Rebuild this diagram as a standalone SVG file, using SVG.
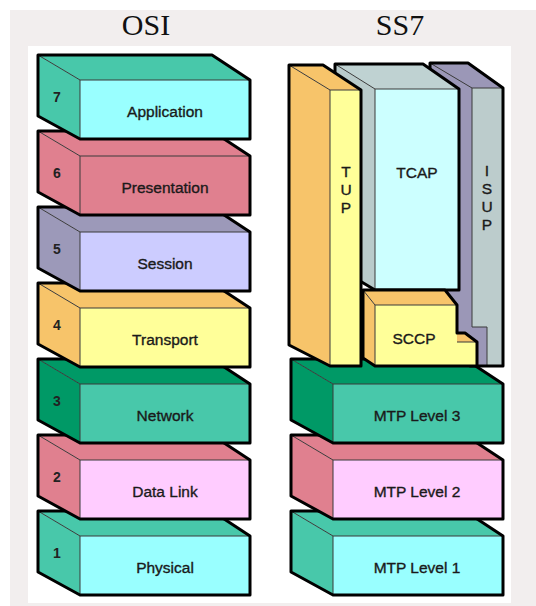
<svg xmlns="http://www.w3.org/2000/svg" width="536" height="606" viewBox="0 0 536 606">
<style>
.o{fill:none;stroke:#000;stroke-width:3;stroke-linejoin:round}
.e{fill:none;stroke:#3a3a3a;stroke-width:1}
.lbl{font-family:"Liberation Sans",Arial,sans-serif;font-size:15.5px;fill:#1a1a1a;stroke:#1a1a1a;stroke-width:0.35;text-anchor:middle}
.num{font-family:"Liberation Sans",Arial,sans-serif;font-size:14px;font-weight:bold;fill:#222;text-anchor:middle}
.ttl{font-family:"Liberation Serif","Times New Roman",serif;font-size:30px;fill:#111;text-anchor:middle}
.teal{fill:#48c8aa}.cyan{fill:#99ffff}.pink{fill:#e0808f}.lpink{fill:#ffccff}
.slate{fill:#9c99b9}.lav{fill:#ccccff}.orng{fill:#f7c46a}.yel{fill:#ffff99}
.dg{fill:#009966}.tcf{fill:#ccffff}.tcs{fill:#b9cbcb}.tct{fill:#bfd2d2}
.pur{fill:#9b97b7}.gry{fill:#bccccc}
</style>
<rect width="536" height="606" fill="#ffffff"/>
<rect x="10" y="10" width="526" height="596" fill="#f2eeee"/>
<rect x="28" y="46" width="483" height="557" fill="#ffffff"/>
<text class="ttl" x="146" y="35">OSI</text>
<text class="ttl" x="400" y="35">SS7</text>

<!-- OSI stack, drawn bottom-up -->
<g id="osi1" transform="translate(0,511)">
<polygon class="teal" points="38,0 212,0 250,25 80,25"/><polygon class="teal" points="38,0 80,25 80,84 38,61"/>
<rect class="cyan" x="80" y="25" width="170" height="59"/>
<path class="e" d="M38,0L80,25L250,25M80,25V84"/><polygon class="o" points="38,0 212,0 250,25 250,84 80,84 38,61"/>
<text class="num" x="57" y="47">1</text><text class="lbl" x="165" y="62">Physical</text></g>
<g id="osi2" transform="translate(0,435)">
<polygon class="pink" points="38,0 212,0 250,25 80,25"/><polygon class="pink" points="38,0 80,25 80,84 38,61"/>
<rect class="lpink" x="80" y="25" width="170" height="59"/>
<path class="e" d="M38,0L80,25L250,25M80,25V84"/><polygon class="o" points="38,0 212,0 250,25 250,84 80,84 38,61"/>
<text class="num" x="57" y="47">2</text><text class="lbl" x="165" y="62">Data Link</text></g>
<g id="osi3" transform="translate(0,359)">
<polygon class="dg" points="38,0 212,0 250,25 80,25"/><polygon class="dg" points="38,0 80,25 80,84 38,61"/>
<rect class="teal" x="80" y="25" width="170" height="59"/>
<path class="e" d="M38,0L80,25L250,25M80,25V84"/><polygon class="o" points="38,0 212,0 250,25 250,84 80,84 38,61"/>
<text class="num" x="57" y="47">3</text><text class="lbl" x="165" y="62">Network</text></g>
<g id="osi4" transform="translate(0,283)">
<polygon class="orng" points="38,0 212,0 250,25 80,25"/><polygon class="orng" points="38,0 80,25 80,84 38,61"/>
<rect class="yel" x="80" y="25" width="170" height="59"/>
<path class="e" d="M38,0L80,25L250,25M80,25V84"/><polygon class="o" points="38,0 212,0 250,25 250,84 80,84 38,61"/>
<text class="num" x="57" y="47">4</text><text class="lbl" x="165" y="62">Transport</text></g>
<g id="osi5" transform="translate(0,207)">
<polygon class="slate" points="38,0 212,0 250,25 80,25"/><polygon class="slate" points="38,0 80,25 80,84 38,61"/>
<rect class="lav" x="80" y="25" width="170" height="59"/>
<path class="e" d="M38,0L80,25L250,25M80,25V84"/><polygon class="o" points="38,0 212,0 250,25 250,84 80,84 38,61"/>
<text class="num" x="57" y="47">5</text><text class="lbl" x="165" y="62">Session</text></g>
<g id="osi6" transform="translate(0,131)">
<polygon class="pink" points="38,0 212,0 250,25 80,25"/><polygon class="pink" points="38,0 80,25 80,84 38,61"/>
<rect class="pink" x="80" y="25" width="170" height="59"/>
<path class="e" d="M38,0L80,25L250,25M80,25V84"/><polygon class="o" points="38,0 212,0 250,25 250,84 80,84 38,61"/>
<text class="num" x="57" y="47">6</text><text class="lbl" x="165" y="62">Presentation</text></g>
<g id="osi7" transform="translate(0,55)">
<polygon class="teal" points="38,0 212,0 250,25 80,25"/><polygon class="teal" points="38,0 80,25 80,84 38,61"/>
<rect class="cyan" x="80" y="25" width="170" height="59"/>
<path class="e" d="M38,0L80,25L250,25M80,25V84"/><polygon class="o" points="38,0 212,0 250,25 250,84 80,84 38,61"/>
<text class="num" x="57" y="47">7</text><text class="lbl" x="165" y="62">Application</text></g>

<!-- SS7 stack -->
<g id="mtp1" transform="translate(253,511)">
<polygon class="teal" points="38,0 212,0 250,25 80,25"/><polygon class="teal" points="38,0 80,25 80,84 38,61"/>
<rect class="cyan" x="80" y="25" width="170" height="59"/>
<path class="e" d="M38,0L80,25L250,25M80,25V84"/><polygon class="o" points="38,0 212,0 250,25 250,84 80,84 38,61"/>
<text class="lbl" x="164" y="62">MTP Level 1</text></g>
<g id="mtp2" transform="translate(253,435)">
<polygon class="pink" points="38,0 212,0 250,25 80,25"/><polygon class="pink" points="38,0 80,25 80,84 38,61"/>
<rect class="lpink" x="80" y="25" width="170" height="59"/>
<path class="e" d="M38,0L80,25L250,25M80,25V84"/><polygon class="o" points="38,0 212,0 250,25 250,84 80,84 38,61"/>
<text class="lbl" x="164" y="62">MTP Level 2</text></g>
<g id="mtp3" transform="translate(253,359)">
<polygon class="dg" points="38,0 212,0 250,25 80,25"/><polygon class="dg" points="38,0 80,25 80,84 38,61"/>
<rect class="teal" x="80" y="25" width="170" height="59"/>
<path class="e" d="M38,0L80,25L250,25M80,25V84"/><polygon class="o" points="38,0 212,0 250,25 250,84 80,84 38,61"/>
<text class="lbl" x="164" y="62">MTP Level 3</text></g>

<g id="isup">
<polygon class="pur" points="430,63 468,63 503,88 503,366 470,366 440,295 430,100"/>
<polygon class="gry" points="472,88 503,88 503,366 487,366 487,327 472,327"/>
<path class="e" d="M430,63L472,88L503,88M472,88V327H487V366"/>
<polygon class="o" points="430,63 468,63 503,88 503,366 470,366 440,295 430,100"/>
<text class="lbl" x="487" y="176">I</text><text class="lbl" x="487" y="194">S</text>
<text class="lbl" x="487" y="212">U</text><text class="lbl" x="487" y="230">P</text></g>

<g id="tcap">
<polygon class="tct" points="335,64 423,64 459,89 375,89"/>
<polygon class="tcs" points="335,64 375,89 375,290 335,266"/>
<rect class="tcf" x="375" y="89" width="84" height="201"/>
<path class="e" d="M335,64L375,89L459,89M375,89V290"/>
<polygon class="o" points="335,64 423,64 459,89 459,290 375,290 335,266"/>
<text class="lbl" x="417" y="178">TCAP</text></g>

<g id="sccp">
<polygon class="orng" points="363,290 445,290 457,305 375,305"/>
<polygon class="orng" points="363,290 375,305 375,366 363,358"/>
<polygon class="yel" points="375,305 457,305 457,342 477,342 477,366 375,366"/>
<polygon class="orng" points="457,333 465,333 477,342 457,342"/>
<path class="e" d="M363,290L375,305L457,305M375,305V366M457,342H477"/>
<polygon class="o" points="363,290 445,290 457,305 457,333 465,333 477,342 477,366 375,366 363,358"/>
<text class="lbl" x="414" y="344">SCCP</text></g>

<g id="tup">
<polygon class="orng" points="289,65 323,65 361,90 330,90"/>
<polygon class="orng" points="289,65 330,90 330,366 289,345"/>
<rect class="yel" x="330" y="90" width="31" height="276"/>
<path class="e" d="M289,65L330,90L361,90M330,90V366"/>
<polygon class="o" points="289,65 323,65 361,90 361,366 330,366 289,345"/>
<text class="lbl" x="346" y="177">T</text><text class="lbl" x="346" y="195">U</text>
<text class="lbl" x="346" y="213">P</text></g>
</svg>
